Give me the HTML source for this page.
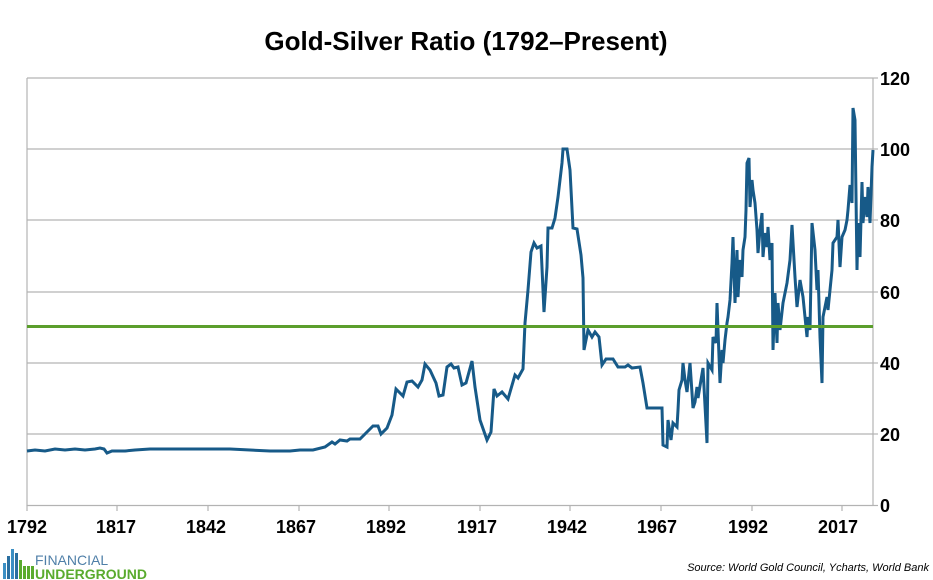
<!DOCTYPE html>
<html><head><meta charset="utf-8"><style>
body{margin:0;background:#fff;font-family:"Liberation Sans",sans-serif;}
</style></head><body>
<svg width="933" height="580" xmlns="http://www.w3.org/2000/svg" style="display:block">
<rect width="933" height="580" fill="#fff"/>
<text x="466" y="50" text-anchor="middle" font-size="26" font-weight="bold" font-family="Liberation Sans" fill="#000">Gold-Silver Ratio (1792–Present)</text>
<g stroke="#b3b3b3" stroke-width="1.2">
<line x1="27" y1="78" x2="873" y2="78"/>
<line x1="27" y1="149" x2="873" y2="149"/>
<line x1="27" y1="220" x2="873" y2="220"/>
<line x1="27" y1="292" x2="873" y2="292"/>
<line x1="27" y1="363" x2="873" y2="363"/>
<line x1="27" y1="434" x2="873" y2="434"/>
<line x1="27" y1="505.5" x2="873" y2="505.5"/>
<line x1="27" y1="78" x2="27" y2="505.5"/>
<line x1="873" y1="78" x2="873" y2="505.5"/>
<line x1="873" y1="78" x2="878" y2="78"/><line x1="873" y1="149" x2="878" y2="149"/><line x1="873" y1="220" x2="878" y2="220"/><line x1="873" y1="292" x2="878" y2="292"/><line x1="873" y1="363" x2="878" y2="363"/><line x1="873" y1="434" x2="878" y2="434"/><line x1="873" y1="505.5" x2="878" y2="505.5"/>
<line x1="27" y1="505" x2="27" y2="511"/><line x1="117" y1="505" x2="117" y2="511"/><line x1="208" y1="505" x2="208" y2="511"/><line x1="299" y1="505" x2="299" y2="511"/><line x1="389" y1="505" x2="389" y2="511"/><line x1="480" y1="505" x2="480" y2="511"/><line x1="570" y1="505" x2="570" y2="511"/><line x1="661" y1="505" x2="661" y2="511"/><line x1="752" y1="505" x2="752" y2="511"/><line x1="842" y1="505" x2="842" y2="511"/>
</g>
<g font-size="18" font-weight="bold" font-family="Liberation Sans" fill="#000">
<text x="880" y="85">120</text><text x="880" y="156">100</text><text x="880" y="227">80</text><text x="880" y="299">60</text><text x="880" y="370">40</text><text x="880" y="441">20</text><text x="880" y="512">0</text>
</g>
<g font-size="18" font-weight="bold" font-family="Liberation Sans" fill="#000" text-anchor="middle">
<text x="27" y="533">1792</text><text x="116" y="533">1817</text><text x="206" y="533">1842</text><text x="296" y="533">1867</text><text x="386" y="533">1892</text><text x="477" y="533">1917</text><text x="567" y="533">1942</text><text x="657" y="533">1967</text><text x="748" y="533">1992</text><text x="838" y="533">2017</text>
</g>
<polyline fill="none" stroke="#175a88" stroke-width="3" stroke-linejoin="miter" points="27,451 35,450 45,451 55,449 65,450 75,449 85,450 95,449 100,448 104,449 107,453 112,451 125,451 135,450 150,449 170,449 200,449 230,449 250,450 270,451 290,451 300,450 313,450 325,447 332,442 335,444 340,440 347,441 350,439 360,439 367,432 373,426 378,426 381,434 387,428 392,415 396,389 403,396 407,382 412,381 418,387 422,380 425,364 430,370 436,383 439,396 443,395 447,367 451,364 454,368 458,367 462,385 466,383 472,361 475,387 480,420 487,440 491,432 494,389 497,396 502,392 508,399 515,375 518,378 523,369 525,323 528,290 531,252 534,243 537,248 541,246 544,312 547,267 548,228 552,228 555,218 558,197 562,163 563,149 567,149 570,170 573,228 577,229 581,255 583,278 584,350 588,330 592,337 595,332 599,337 602,365 606,359 613,359 618,367 625,367 628,365 632,368 640,367 643,383 647,408 662,408 663,445 667,447 668,420 671,440 673,423 677,427 678,410 679,390 682,380 683,363 685,380 687,392 690,363 693,408 695,402 697,387 698,398 703,368 707,443 708,363 712,370 713,337 716,343 717,303 720,383 722,350 723,363 725,340 727,323 728,317 730,300 732,263 733,237 735,303 737,250 738,297 740,260 742,277 743,250 745,237 746,210 747,163 749,158 750,207 752,180 753,190 755,203 757,230 758,253 760,230 762,213 763,257 765,233 767,247 768,227 770,260 772,243 773,350 775,293 777,343 778,303 780,330 783,303 787,283 790,260 792,225 795,277 797,307 800,280 803,297 807,337 808,317 810,330 812,223 815,250 817,290 818,270 820,337 822,383 823,317 827,297 828,310 832,270 833,243 837,237 838,220 840,267 842,237 845,230 847,220 848,210 850,185 852,203 853,108 855,120 857,270 858,223 860,257 862,182 863,223 865,197 867,217 868,187 870,223 872,167 873,150"/>
<line x1="27" y1="326.5" x2="873" y2="326.5" stroke="#5b9e2c" stroke-width="3"/>
<g>
<rect x="3" y="563" width="3" height="16" fill="#3b8fc4"/><rect x="7" y="556" width="3" height="23" fill="#2a6fa0"/><rect x="11" y="549" width="3" height="30" fill="#3b8fc4"/><rect x="15" y="553" width="3" height="26" fill="#2a6fa0"/><rect x="19" y="560" width="3" height="19" fill="#5aab2e"/><rect x="23" y="566" width="3" height="13" fill="#5aab2e"/><rect x="27" y="566" width="3" height="13" fill="#5aab2e"/><rect x="31" y="566" width="3" height="13" fill="#5aab2e"/>
<text x="35" y="565" font-size="14" font-family="Liberation Sans" fill="#4f7fa8">FINANCIAL</text>
<text x="35" y="579" font-size="14" font-weight="bold" font-family="Liberation Sans" fill="#5aab2e">UNDERGROUND</text>
</g>
<text x="929" y="571" text-anchor="end" font-size="11" font-style="italic" font-family="Liberation Sans" fill="#000">Source: World Gold Council, Ycharts, World Bank</text>
</svg>
</body></html>
